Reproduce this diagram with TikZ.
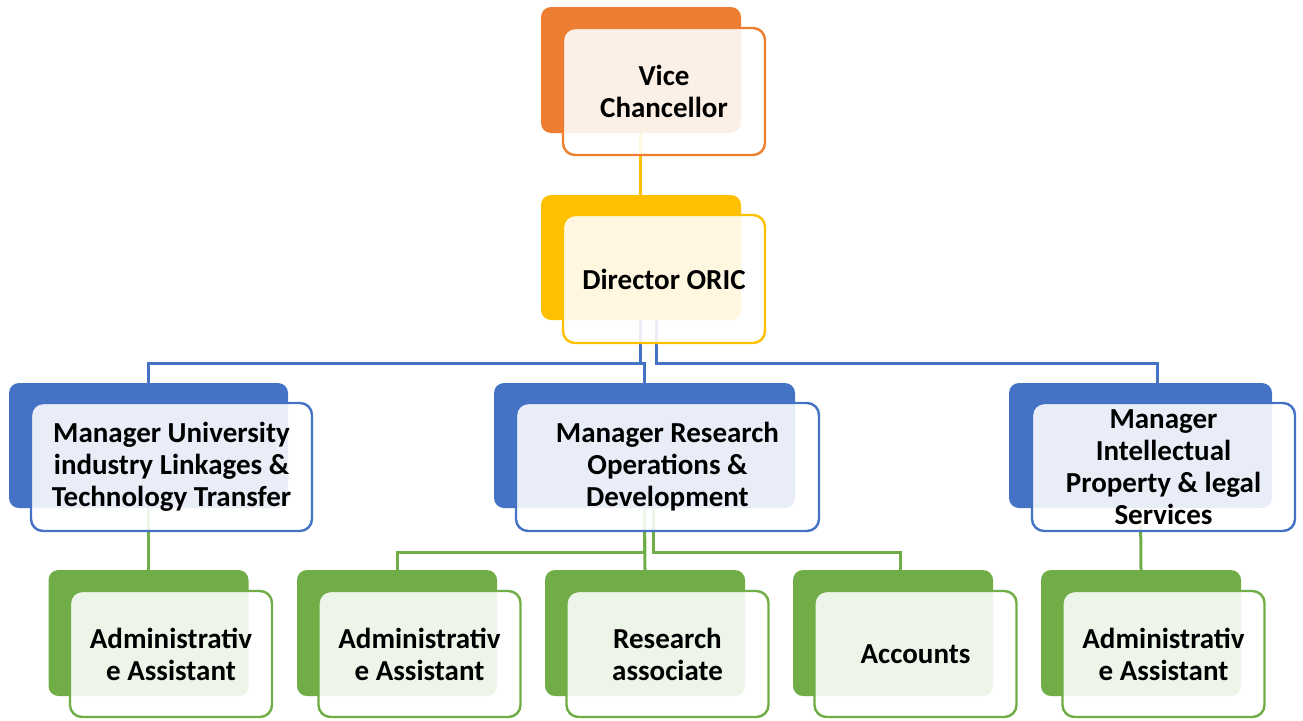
\documentclass[tikz,border=0pt]{standalone}
\usepackage{fontspec}
\setmainfont{Carlito}
\usetikzlibrary{backgrounds}
\definecolor{cOrange}{HTML}{ED7D31}
\definecolor{cYellow}{HTML}{FFC000}
\definecolor{cBlue}{HTML}{4472C4}
\definecolor{cGreen}{HTML}{70AD47}
\tikzset{
  backbox/.style={fill=#1, draw=none, rounded corners=10pt, inner sep=0pt},
  frontbox/.style={draw=#1, line width=2.4pt, fill=white, fill opacity=0.88, text opacity=1,
    rounded corners=12pt, inner sep=0pt, align=center,
    font=\fontsize{29}{32}\selectfont\bfseries},
  link/.style={draw=#1, line width=3pt},
}
\begin{document}
\begin{tikzpicture}[x=1pt,y=-1pt]
\useasboundingbox (0,0) rectangle (1303,720);
% ---- back boxes
\node[backbox=cOrange, minimum width=200pt, minimum height=126pt] (vcb) at (641,70) {};
\node[backbox=cYellow, minimum width=200pt, minimum height=125pt] (dirb) at (641,257.5) {};
\node[backbox=cBlue, minimum width=279pt, minimum height=125pt] (m1b) at (148.5,445.5) {};
\node[backbox=cBlue, minimum width=301pt, minimum height=125pt] (m2b) at (644.5,445.5) {};
\node[backbox=cBlue, minimum width=263pt, minimum height=125pt] (m3b) at (1140.5,445.5) {};
\node[backbox=cGreen, minimum width=200pt, minimum height=126pt] (g1b) at (148.5,633) {};
\node[backbox=cGreen, minimum width=200pt, minimum height=126pt] (g2b) at (397,633) {};
\node[backbox=cGreen, minimum width=200pt, minimum height=126pt] (g3b) at (645,633) {};
\node[backbox=cGreen, minimum width=200pt, minimum height=126pt] (g4b) at (893,633) {};
\node[backbox=cGreen, minimum width=200pt, minimum height=126pt] (g5b) at (1141,633) {};
% ---- front boxes
\node[frontbox=cOrange, minimum width=202pt, minimum height=127pt] (vc) at (664,91.5) {Vice\\Chancellor};
\node[frontbox=cYellow, minimum width=202pt, minimum height=128pt] (dir) at (664,279) {Director ORIC};
\node[frontbox=cBlue, minimum width=281pt, minimum height=128pt] (m1) at (171.5,467) {Manager University\\industry Linkages \&\\Technology Transfer};
\node[frontbox=cBlue, minimum width=303pt, minimum height=128pt] (m2) at (667.5,467) {Manager Research\\Operations \&\\Development};
\node[frontbox=cBlue, minimum width=263pt, minimum height=128pt] (m3) at (1163.5,467) {Manager\\Intellectual\\Property \& legal\\Services};
\node[frontbox=cGreen, minimum width=202pt, minimum height=126pt] (g1) at (171,654) {Administrativ\\e Assistant};
\node[frontbox=cGreen, minimum width=202pt, minimum height=126pt] (g2) at (419.5,654) {Administrativ\\e Assistant};
\node[frontbox=cGreen, minimum width=202pt, minimum height=126pt] (g3) at (667.5,654) {Research\\associate};
\node[frontbox=cGreen, minimum width=202pt, minimum height=126pt] (g4) at (915.5,654) {Accounts};
\node[frontbox=cGreen, minimum width=202pt, minimum height=126pt] (g5) at (1163.5,654) {Administrativ\\e Assistant};
% ---- connectors
\begin{scope}[on background layer]
\draw[link=cYellow] ([xshift=-1pt]vcb.south) -- ([xshift=-1pt]dirb.north);
\draw[link=cBlue] ([xshift=-1pt]dirb.south) -- ++(0,43) -| (m1b.north);
\draw[link=cBlue] ([xshift=15pt]dirb.south) -- ++(0,43) -| ([xshift=16.5pt]m3b.north);
\draw[link=cBlue] ([xshift=-1pt]dirb.south) -- ++(0,43) -| (m2b.north);
\draw[link=cGreen] (m1b.south) -- (g1b.north);
\draw[link=cGreen] (m2b.south) -- ++(0,44) -| (g2b.north);
\draw[link=cGreen] ([xshift=8.5pt]m2b.south) -- ++(0,44) -| ([xshift=7pt]g4b.north);
\draw[link=cGreen] (m2b.south) -- (g3b.north);
\draw[link=cGreen] (m3b.south) -- (g5b.north);
\end{scope}
\end{tikzpicture}
\end{document}
